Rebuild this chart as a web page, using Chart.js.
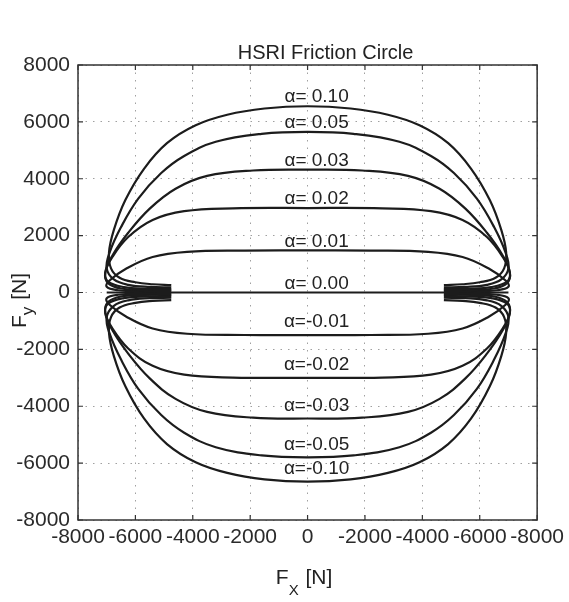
<!DOCTYPE html>
<html><head><meta charset="utf-8">
<script src="https://cdn.jsdelivr.net/npm/chart.js@4"></script>
<style>html,body{margin:0;padding:0;background:#fff;}</style>
</head><body>
<canvas id="c" width="569" height="602"></canvas>
<script>
// ---- data ----
const xTickLabels = ["-8000","-6000","-4000","-2000","0","-2000","-4000","-6000","-8000"];
const yTickLabels = ["-8000","-6000","-4000","-2000","0","2000","4000","6000","8000"];
const alphaLabels = ["α= 0.10","α= 0.05","α= 0.03","α= 0.02","α= 0.01","α= 0.00","α=-0.01","α=-0.02","α=-0.03","α=-0.05","α=-0.10"];

// Fx [N] along each curve (shared by the +alpha and -alpha curve of the same size)
const fxA10 = [-4750,-5400,-6000,-6550,-6850,-6920,-6750,-6350,-5700,-4900,-3900,-2800,-1500,0,1500,2800,3900,4900,5700,6350,6750,6920,6850,6550,6000,5400,4750];
const fxA05 = [-4750,-5500,-6250,-6750,-7000,-6900,-6500,-5900,-5100,-4300,-3200,-1600,0,1600,3200,4300,5100,5900,6500,6900,7000,6750,6250,5500,4750];
const fxA03 = [-4750,-5600,-6400,-6950,-7050,-6800,-6250,-5500,-4600,-3500,-1900,0,1900,3500,4600,5500,6250,6800,7050,6950,6400,5600,4750];
const fxA02 = [-4750,-5700,-6500,-6950,-7050,-6800,-6250,-5400,-4300,-2600,0,2600,4300,5400,6250,6800,7050,6950,6500,5700,4750];
const fxA01 = [-4750,-5800,-6600,-7000,-6900,-6300,-5400,-4200,-2200,0,2200,4200,5400,6300,6900,7000,6600,5800,4750];
const fxA00 = [-4750,-5900,-7000,-5900,0,5900,7000,5900,4750];

// Fy [N] along each curve
const fyP10 = [260,290,360,520,850,1400,2200,3250,4350,5250,5880,6250,6470,6550,6470,6250,5880,5250,4350,3250,2200,1400,850,520,360,290,260];
const fyP05 = [180,195,270,460,850,1400,2300,3300,4200,4800,5300,5580,5650,5580,5300,4800,4200,3300,2300,1400,850,460,270,195,180];
const fyP03 = [120,130,190,380,700,1300,2100,2950,3650,4100,4290,4320,4290,4100,3650,2950,2100,1300,700,380,190,130,120];
const fyP02 = [80,85,140,330,700,1250,1950,2550,2860,2960,2970,2960,2860,2550,1950,1250,700,330,140,85,80];
const fyP01 = [40,45,80,200,420,850,1250,1430,1475,1480,1475,1430,1250,850,420,200,80,45,40];
const fyZ00 = [0,0,0,0,0,0,0,0,0];
const fyM01 = [-40,-45,-80,-205,-430,-860,-1265,-1450,-1495,-1500,-1495,-1450,-1265,-860,-430,-205,-80,-45,-40];
const fyM02 = [-80,-85,-140,-335,-710,-1265,-1970,-2580,-2890,-2990,-3000,-2990,-2890,-2580,-1970,-1265,-710,-335,-140,-85,-80];
const fyM03 = [-125,-135,-195,-390,-720,-1330,-2150,-3020,-3740,-4200,-4400,-4430,-4400,-4200,-3740,-3020,-2150,-1330,-720,-390,-195,-135,-125];
const fyM05 = [-185,-200,-275,-470,-875,-1440,-2360,-3390,-4310,-4930,-5440,-5730,-5800,-5730,-5440,-4930,-4310,-3390,-2360,-1440,-875,-470,-275,-200,-185];
const fyM10 = [-265,-295,-365,-530,-865,-1420,-2235,-3300,-4430,-5330,-5970,-6345,-6570,-6650,-6570,-6345,-5970,-5330,-4430,-3300,-2235,-1420,-865,-530,-365,-295,-265];

const curveX = [fxA10,fxA05,fxA03,fxA02,fxA01,fxA00,fxA01,fxA02,fxA03,fxA05,fxA10];
const curveY = [fyP10,fyP05,fyP03,fyP02,fyP01,fyZ00,fyM01,fyM02,fyM03,fyM05,fyM10];

// ---- chart ----
const FONT = '"Liberation Sans", Arial, Helvetica, sans-serif';
const INK = '#1c1c1c';

const datasets = curveX.map((fx, k) => ({
  label: alphaLabels[k],
  data: fx.map((v, i) => ({x: v, y: curveY[k][i]})),
  showLine: true,
  borderColor: INK,
  borderWidth: 2.2,
  pointRadius: 0,
  tension: 0.4,
  fill: false
}));

const decor = {
  id: 'decor',
  afterDatasetsDraw(chart) {
    const {ctx, chartArea: a, scales: {x, y}} = chart;
    ctx.save();
    // frame
    ctx.strokeStyle = '#333';
    ctx.lineWidth = 1.5;
    ctx.strokeRect(a.left, a.top, a.right - a.left, a.bottom - a.top);
    // inward tick marks
    ctx.lineWidth = 1.2;
    ctx.beginPath();
    x.ticks.forEach((t, i) => {
      const px = x.getPixelForTick(i);
      ctx.moveTo(px, a.bottom); ctx.lineTo(px, a.bottom - 5);
      ctx.moveTo(px, a.top); ctx.lineTo(px, a.top + 5);
    });
    y.ticks.forEach((t, i) => {
      const py = y.getPixelForTick(i);
      ctx.moveTo(a.left, py); ctx.lineTo(a.left + 5, py);
      ctx.moveTo(a.right, py); ctx.lineTo(a.right - 5, py);
    });
    ctx.stroke();
    // curve labels, anchored to each curve's centre point
    ctx.fillStyle = '#222';
    ctx.font = '19px ' + FONT;
    ctx.textAlign = 'center';
    ctx.textBaseline = 'middle';
    curveX.forEach((fx, k) => {
      const idx = fx.indexOf(0);
      const v = curveY[k][idx];
      const py = y.getPixelForValue(v);
      const off = v < 0 ? -13 : -9;
      ctx.fillText(alphaLabels[k], x.getPixelForValue(0) + 9, py + off);
    });
    // title
    ctx.font = '20px ' + FONT;
    ctx.textBaseline = 'alphabetic';
    ctx.fillText('HSRI Friction Circle', (a.left + a.right) / 2 + 18, 59);
    // x axis title  F_X [N]
    ctx.textAlign = 'left';
    const big = '21px ' + FONT, small = '15px ' + FONT;
    ctx.font = big; const wF = ctx.measureText('F').width; const wN = ctx.measureText(' [N]').width;
    ctx.font = small; const wX = ctx.measureText('X').width;
    let sx = (a.left + a.right) / 2 - 4 - (wF + wX + wN) / 2;
    const by = 584;
    ctx.font = big; ctx.fillText('F', sx, by);
    ctx.font = small; ctx.fillText('X', sx + wF, by + 11);
    ctx.font = big; ctx.fillText(' [N]', sx + wF + wX + 1, by);
    // y axis title  F_y [N]
    ctx.translate(26, 328);
    ctx.rotate(-Math.PI / 2);
    ctx.font = big; ctx.fillText('F', 0, 0);
    ctx.font = '17px ' + FONT; const wy = ctx.measureText('y').width; ctx.fillText('y', wF, 7);
    ctx.font = big; ctx.fillText(' [N]', wF + wy + 1, 0);
    ctx.restore();
  }
};

new Chart(document.getElementById('c'), {
  type: 'scatter',
  data: {datasets},
  options: {
    responsive: false,
    animation: false,
    layout: {padding: {top: 65, right: 29, bottom: 0, left: 0}},
    plugins: {legend: {display: false}, tooltip: {enabled: false}, title: {display: false}},
    scales: {
      x: {
        type: 'linear', min: -8000, max: 8000,
        afterFit(s) { s.height = 82; },
        grid: {color: '#a0a0a0', lineWidth: 1, drawTicks: false},
        border: {display: false, dash: [1.5, 6]},
        ticks: {
          stepSize: 2000, autoSkip: false, maxRotation: 0, padding: 5,
          color: '#2a2a2a', font: {family: FONT, size: 21},
          callback: (v, i) => xTickLabels[i]
        }
      },
      y: {
        type: 'linear', min: -8000, max: 8000,
        afterFit(s) { s.width = 78; },
        grid: {color: '#a0a0a0', lineWidth: 1, drawTicks: false},
        border: {display: false, dash: [1.5, 6]},
        ticks: {
          stepSize: 2000, autoSkip: false, padding: 8,
          color: '#2a2a2a', font: {family: FONT, size: 21},
          callback: (v, i) => yTickLabels[i]
        }
      }
    }
  },
  plugins: [decor]
});
</script>
</body></html>
